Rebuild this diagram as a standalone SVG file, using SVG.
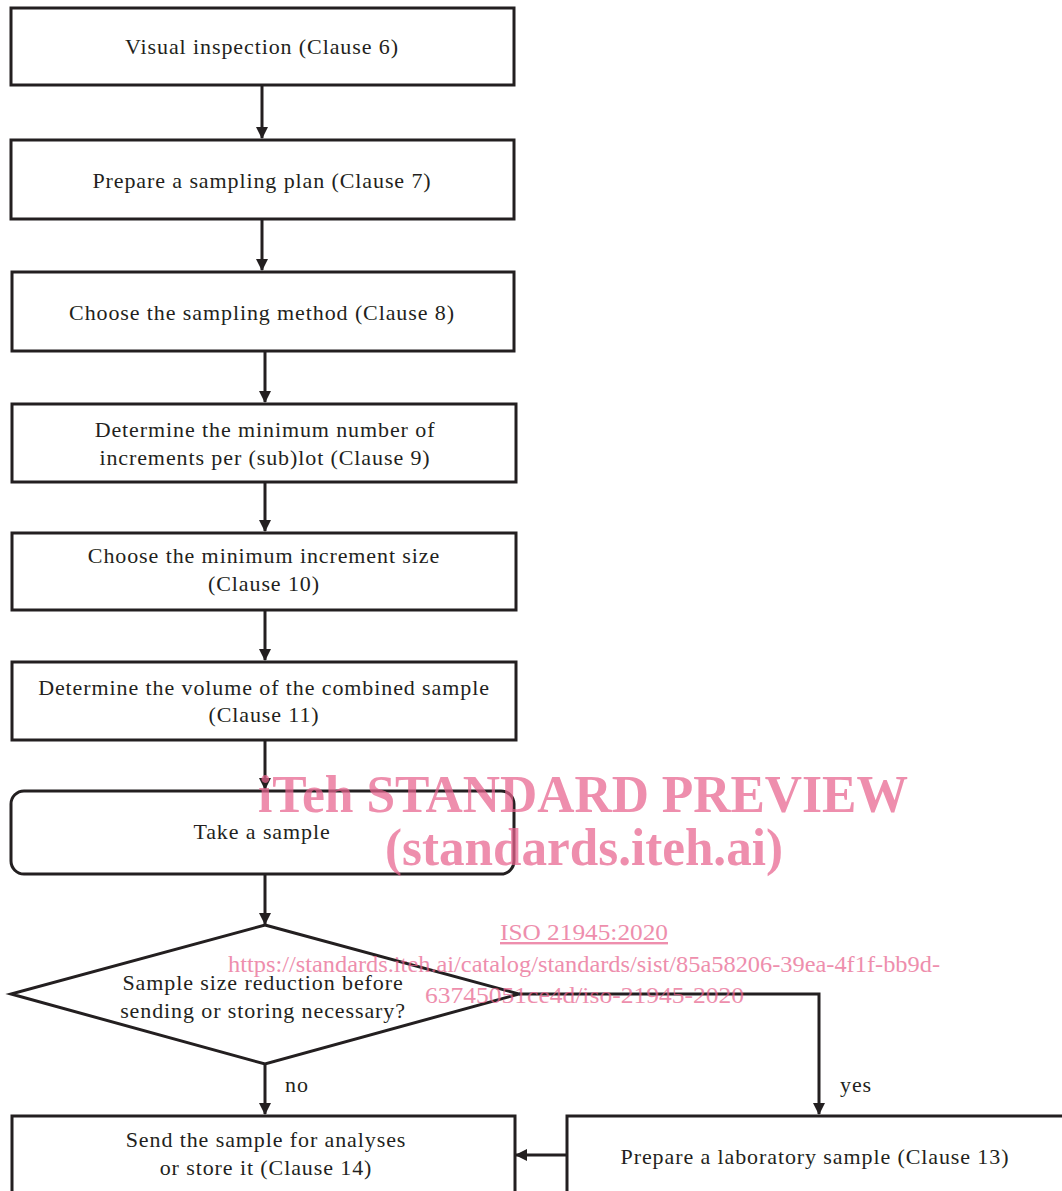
<svg xmlns="http://www.w3.org/2000/svg" width="1062" height="1191" viewBox="0 0 1062 1191">
<defs>
<style>
.box{fill:#fff;stroke:#231f20;stroke-width:3}
.t{font-family:"Liberation Serif","Times New Roman",serif;font-size:22px;letter-spacing:0.9px;fill:#231f20;text-anchor:middle}
.c{fill:none;stroke:#231f20;stroke-width:3}
.wm{font-family:"Liberation Serif","Times New Roman",serif;fill:#e8648e;opacity:0.72}
</style>
<marker id="ah" markerWidth="12" markerHeight="12" viewBox="0 0 12 12" refX="11" refY="6" orient="auto" markerUnits="userSpaceOnUse">
<path d="M0,0 L12,6 L0,12 Z" fill="#231f20"/>
</marker>
</defs>
<rect width="1062" height="1191" fill="#fff"/>
<g id="connectors">
<line class="c" x1="262" y1="86" x2="262" y2="138" marker-end="url(#ah)"/>
<line class="c" x1="262" y1="219" x2="262" y2="270" marker-end="url(#ah)"/>
<line class="c" x1="265" y1="351" x2="265" y2="402" marker-end="url(#ah)"/>
<line class="c" x1="265" y1="482" x2="265" y2="531" marker-end="url(#ah)"/>
<line class="c" x1="265" y1="610" x2="265" y2="660" marker-end="url(#ah)"/>
<line class="c" x1="265" y1="740" x2="265" y2="789" marker-end="url(#ah)"/>
<line class="c" x1="265" y1="874" x2="265" y2="924" marker-end="url(#ah)"/>
<line class="c" x1="265" y1="1064" x2="265" y2="1114" marker-end="url(#ah)"/>
<polyline class="c" points="519,994 819,994 819,1114" marker-end="url(#ah)"/>
<line class="c" x1="567" y1="1155" x2="516" y2="1155" marker-end="url(#ah)"/>
<text class="t" x="297" y="1092">no</text>
<text class="t" x="856" y="1092">yes</text>
</g>
<g id="n1"><rect class="box" x="11" y="8" width="503" height="77"/><text class="t" x="262" y="54">Visual inspection (Clause 6)</text></g>
<g id="n2"><rect class="box" x="11" y="140" width="503" height="79"/><text class="t" x="262" y="188">Prepare a sampling plan (Clause 7)</text></g>
<g id="n3"><rect class="box" x="12" y="272" width="502" height="79"/><text class="t" x="262" y="320">Choose the sampling method (Clause 8)</text></g>
<g id="n4"><rect class="box" x="12" y="404" width="504" height="78"/><text class="t" x="265" y="437">Determine the minimum number of</text><text class="t" x="265" y="465">increments per (sub)lot (Clause 9)</text></g>
<g id="n5"><rect class="box" x="12" y="533" width="504" height="77"/><text class="t" x="264" y="563">Choose the minimum increment size</text><text class="t" x="264" y="591">(Clause 10)</text></g>
<g id="n6"><rect class="box" x="12" y="662" width="504" height="78"/><text class="t" x="264" y="695">Determine the volume of the combined sample</text><text class="t" x="264" y="722">(Clause 11)</text></g>
<g id="n7"><rect class="box" x="11" y="791" width="503" height="83" rx="13"/><text class="t" x="262" y="839">Take a sample</text></g>
<g id="n8"><polygon class="box" points="265,925 519,994 265,1064 11,994"/><text class="t" x="263" y="990">Sample size reduction before</text><text class="t" x="263" y="1018">sending or storing necessary?</text></g>
<g id="n9"><rect class="box" x="12" y="1116" width="503" height="80"/><text class="t" x="266" y="1147">Send the sample for analyses</text><text class="t" x="266" y="1175">or store it (Clause 14)</text></g>
<g id="n10"><rect class="box" x="567" y="1116" width="500" height="80"/><text class="t" x="815" y="1164">Prepare a laboratory sample (Clause 13)</text></g>
<g id="watermark">
<text class="wm" x="258" y="812" font-size="52" font-weight="bold" textLength="650" lengthAdjust="spacingAndGlyphs">iTeh STANDARD PREVIEW</text>
<text class="wm" x="385" y="865" font-size="52" font-weight="bold" textLength="398" lengthAdjust="spacingAndGlyphs">(standards.iteh.ai)</text>
<text class="wm" x="500" y="940" font-size="24" textLength="168" lengthAdjust="spacingAndGlyphs" text-decoration="underline">ISO 21945:2020</text>
<text class="wm" x="228" y="972" font-size="24" textLength="712" lengthAdjust="spacingAndGlyphs">https://standards.iteh.ai/catalog/standards/sist/85a58206-39ea-4f1f-bb9d-</text>
<text class="wm" x="425" y="1003" font-size="24" textLength="319" lengthAdjust="spacingAndGlyphs">63745051ce4d/iso-21945-2020</text>
</g>
</svg>
